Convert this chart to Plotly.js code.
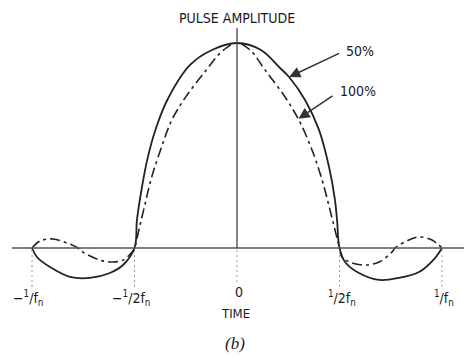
<!DOCTYPE html>
<html>
<head>
<meta charset="utf-8">
<script src="https://cdn.plot.ly/plotly-3.0.1.min.js"></script>
<style>html,body{margin:0;padding:0;background:#fff;}#chart{width:464px;height:358px;}</style>
</head>
<body>
<div id="chart"></div>
<script>
// time in units of 1/fn, amplitude normalised to the peak
const time50 = [-1.000,-0.976,-0.912,-0.815,-0.717,-0.620,-0.556,-0.500,
  -0.488,-0.466,-0.438,-0.398,-0.340,-0.229,-0.122,0,
  0.117,0.210,0.254,0.332,0.400,0.449,0.478,0.488,0.500,
  0.527,0.595,0.693,0.790,0.888,0.966,1.000];
const amp50 = [0,-0.044,-0.093,-0.141,-0.146,-0.122,-0.083,0,
  0.137,0.283,0.430,0.576,0.722,0.893,0.966,1.0,
  0.966,0.878,0.834,0.722,0.576,0.395,0.234,0.137,0,
  -0.068,-0.122,-0.156,-0.146,-0.117,-0.049,0];

const time100 = [-1.000,-0.961,-0.898,-0.829,-0.776,-0.751,-0.668,-0.605,-0.556,-0.512,-0.500,
  -0.476,-0.452,-0.420,-0.373,-0.318,-0.250,-0.150,-0.070,0,
  0.065,0.137,0.234,0.302,0.366,0.415,0.450,0.475,0.500,
  0.512,0.561,0.624,0.693,0.756,0.771,0.839,0.888,0.951,1.000];
const amp100 = [0,0.034,0.044,0.024,0,-0.020,-0.059,-0.068,-0.059,-0.020,0,
  0.100,0.200,0.332,0.478,0.624,0.737,0.868,0.962,1.0,
  0.965,0.868,0.737,0.624,0.478,0.332,0.200,0.100,0,
  -0.044,-0.073,-0.083,-0.068,-0.020,0,0.039,0.054,0.039,0];

const tickVals = [-1, -0.5, 0, 0.5, 1];
const tickText = ["\u2212<sup>1</sup>/f<sub>n</sub>", "\u2212<sup>1</sup>/2f<sub>n</sub>", "0",
                  "<sup>1</sup>/2f<sub>n</sub>", "<sup>1</sup>/f<sub>n</sub>"];
const seriesNames = ["50%", "100%"];
const arrowTargetsT = [0.254, 0.300];
const arrowTargetsA = [0.834, 0.630];

const FONT = "Liberation Sans Narrow, DejaVu Sans Condensed, Liberation Sans, sans-serif";
const INK = "#222";

const traces = [
  {x: time50, y: amp50, mode: "lines", line: {color: INK, width: 1.8, shape: "spline", smoothing: 1}, name: seriesNames[0], hoverinfo: "skip"},
  {x: time100, y: amp100, mode: "lines", line: {color: INK, width: 1.6, shape: "spline", smoothing: 1, dash: "10px,4px,3px,4px"}, name: seriesNames[1], hoverinfo: "skip"}
];

const shapes = [
  {type: "line", xref: "x", yref: "y", x0: -1.098, x1: 1.2, y0: 0, y1: 0, line: {color: "#555", width: 1.5}},
  {type: "line", xref: "x", yref: "y", x0: 0, x1: 0, y0: 0, y1: 1.073, line: {color: "#444", width: 1.3}}
];
tickVals.forEach(function (v) {
  shapes.push({type: "line", xref: "x", yref: "y", x0: v, x1: v, y0: -0.01,
    y1: v === 0 ? -0.166 : -0.19, line: {color: "#999", width: 1, dash: "2px,3px"}});
});

const annotations = [
  {xref: "paper", yref: "paper", x: 237/464, y: 1 - 18/358, text: "PULSE AMPLITUDE", showarrow: false,
   font: {family: FONT, size: 14, color: "#1a1a1a"}, xanchor: "center", yanchor: "middle"},
  {xref: "paper", yref: "paper", x: 236/464, y: 1 - 313/358, text: "TIME", showarrow: false,
   font: {family: FONT, size: 13, color: "#1a1a1a"}, xanchor: "center", yanchor: "middle"},
  {xref: "paper", yref: "paper", x: 235/464, y: 1 - 343/358, text: "<i>(b)</i>", showarrow: false,
   font: {family: "Liberation Serif, DejaVu Serif, serif", size: 17, color: "#1a1a1a"}, xanchor: "center", yanchor: "middle"},
  {xref: "paper", yref: "paper", x: 360/464, y: 1 - 51/358, text: seriesNames[0], showarrow: false,
   font: {family: FONT, size: 14, color: "#1a1a1a"}, xanchor: "center", yanchor: "middle"},
  {xref: "paper", yref: "paper", x: 358/464, y: 1 - 91/358, text: seriesNames[1], showarrow: false,
   font: {family: FONT, size: 14, color: "#1a1a1a"}, xanchor: "center", yanchor: "middle"},
  {xref: "x", yref: "y", x: arrowTargetsT[0], y: arrowTargetsA[0], ax: 53, ay: -25, text: " ", showarrow: true,
   arrowhead: 2, arrowsize: 1.5, arrowwidth: 1.5, arrowcolor: "#333", standoff: 0, startstandoff: 0},
  {xref: "x", yref: "y", x: arrowTargetsT[1], y: arrowTargetsA[1], ax: 37, ay: -25, text: " ", showarrow: true,
   arrowhead: 2, arrowsize: 1.5, arrowwidth: 1.5, arrowcolor: "#333", standoff: 0, startstandoff: 0}
];
tickVals.forEach(function (v, i) {
  annotations.push({xref: "x", yref: "paper", x: v, y: v === 0 ? 1 - 292/358 : 1 - 298/358,
    text: tickText[i], showarrow: false, xanchor: "center", yanchor: "middle",
    xshift: v < 0 ? -4 : 2,
    font: {family: FONT, size: 14, color: "#1a1a1a"}});
});

const layout = {
  width: 464, height: 358,
  margin: {l: 0, r: 0, t: 0, b: 0, pad: 0},
  paper_bgcolor: "#fff", plot_bgcolor: "#fff",
  showlegend: false,
  xaxis: {range: [-237/205, 227/205], visible: false, fixedrange: true},
  yaxis: {range: [-110/205, 248/205], visible: false, fixedrange: true},
  shapes: shapes,
  annotations: annotations
};

Plotly.newPlot("chart", traces, layout, {staticPlot: true, displayModeBar: false});
</script>
</body>
</html>
